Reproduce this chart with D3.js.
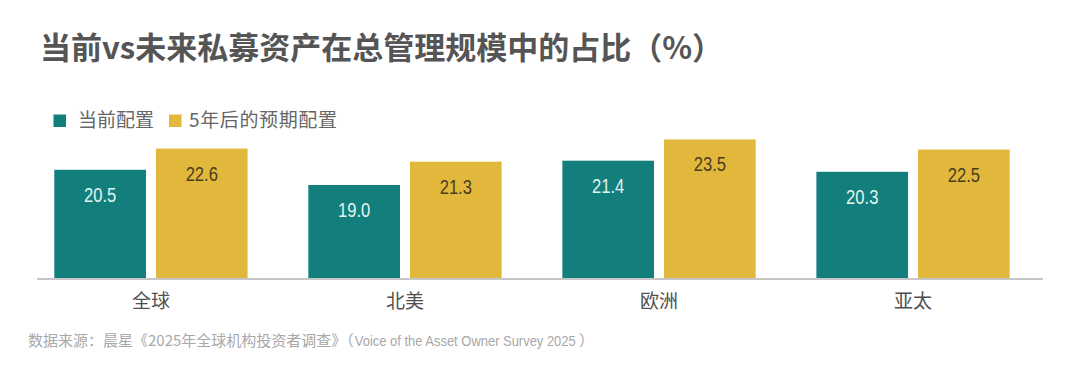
<!DOCTYPE html>
<html>
<head>
<meta charset="utf-8">
<script src="https://cdn.jsdelivr.net/npm/d3@7"></script>
<style>
  html, body { margin: 0; padding: 0; background: #fff; }
  svg { display: block; }
</style>
</head>
<body>
<svg id="chart" width="1080" height="378"></svg>
<script>
const categories = ["全球", "北美", "欧洲", "亚太"];
const seriesNames = ["当前配置", "5年后的预期配置"];
const currentValues = [20.5, 19.0, 21.4, 20.3];
const futureValues = [22.6, 21.3, 23.5, 22.5];
const titleText = "当前vs未来私募资产在总管理规模中的占比（%）";
const sourceParts = ["数据来源：晨星《2025年全球机构投资者调查》（", "Voice of the Asset Owner Survey 2025", "）"];

const colors = ["#137f7c", "#e2b83c"];
const labelColors = ["#e2f5f1", "#4a3d1c"];
const cjk = "'Noto Sans CJK SC', sans-serif";
const latin = "'Liberation Sans', 'Noto Sans CJK SC', sans-serif";

const data = categories.map((c, i) => ({ cat: c, vals: [currentValues[i], futureValues[i]] }));

const svg = d3.select("#chart");

const x0 = d3.scaleBand().domain(categories).range([54.3, 1009.7]).paddingInner(0.239).paddingOuter(0);
const x1 = d3.scaleBand().domain([0, 1]).range([0, x0.bandwidth()]).paddingInner(0.098).paddingOuter(0);
const y = d3.scaleLinear().domain([9.7, 24]).range([279, 134.4]);

// title
svg.append("text")
  .attr("x", 40).attr("y", 59)
  .attr("font-family", cjk)
  .attr("font-weight", "bold").attr("font-size", 31)
  .attr("fill", "#555555")
  .text(titleText);

// legend
const legendRectX = [53.5, 169];
const legendTextX = [78, 189];
const legendTextLen = [null, 148];
const legend = svg.append("g");
seriesNames.forEach((name, i) => {
  legend.append("rect")
    .attr("x", legendRectX[i]).attr("y", 114.5).attr("width", 12.5).attr("height", 12.5)
    .attr("fill", colors[i]);
  const t = legend.append("text")
    .attr("x", legendTextX[i]).attr("y", 127)
    .attr("font-family", cjk).attr("font-size", 19)
    .attr("fill", "#666666")
    .text(name);
  if (legendTextLen[i]) t.attr("textLength", legendTextLen[i]).attr("lengthAdjust", "spacing");
});

// bars
const groups = svg.append("g").selectAll("g").data(data).join("g")
  .attr("transform", d => `translate(${x0(d.cat)},0)`);

groups.selectAll("rect").data(d => d.vals.map((v, k) => ({ v, k }))).join("rect")
  .attr("x", d => x1(d.k))
  .attr("y", d => y(d.v))
  .attr("width", x1.bandwidth())
  .attr("height", d => y.range()[0] - y(d.v))
  .attr("fill", d => colors[d.k]);

groups.selectAll("text.val").data(d => d.vals.map((v, k) => ({ v, k }))).join("text")
  .attr("class", "val")
  .attr("transform", d => `translate(${x1(d.k) + x1.bandwidth() / 2},${y(d.v) + 32}) scale(0.79,1)`)
  .attr("text-anchor", "middle")
  .attr("font-family", latin).attr("font-size", 21)
  .attr("fill", d => labelColors[d.k])
  .text(d => d3.format(".1f")(d.v));

// baseline axis
const axis = d3.axisBottom(x0).tickSize(0).tickPadding(16);
const axG = svg.append("g").attr("transform", `translate(0,${y.range()[0]})`).call(axis);
axG.select(".domain").remove();
axG.append("line").attr("x1", 37).attr("x2", 1043).attr("y1", 0).attr("y2", 0)
  .attr("stroke", "#c6c6c6").attr("stroke-width", 2);
axG.selectAll(".tick text")
  .attr("font-family", cjk).attr("font-size", 19).attr("fill", "#505050");

// source
const src = svg.append("g").attr("fill", "#a8a8a8").attr("font-size", 15);
const s1 = src.append("text").attr("x", 28).attr("y", 346)
  .attr("font-family", cjk).text(sourceParts[0]);
const x2 = 28 + s1.node().getComputedTextLength() + 1;
const s2 = src.append("text").attr("x", 0).attr("y", 0)
  .attr("font-family", latin)
  .text(sourceParts[1]);
const natural = s2.node().getComputedTextLength();
const sx = (576 - x2) / natural;
s2.attr("transform", `translate(${x2},346) scale(${sx},1)`);
src.append("text").attr("x", 579).attr("y", 346)
  .attr("font-family", cjk).text(sourceParts[2]);
</script>
</body>
</html>
